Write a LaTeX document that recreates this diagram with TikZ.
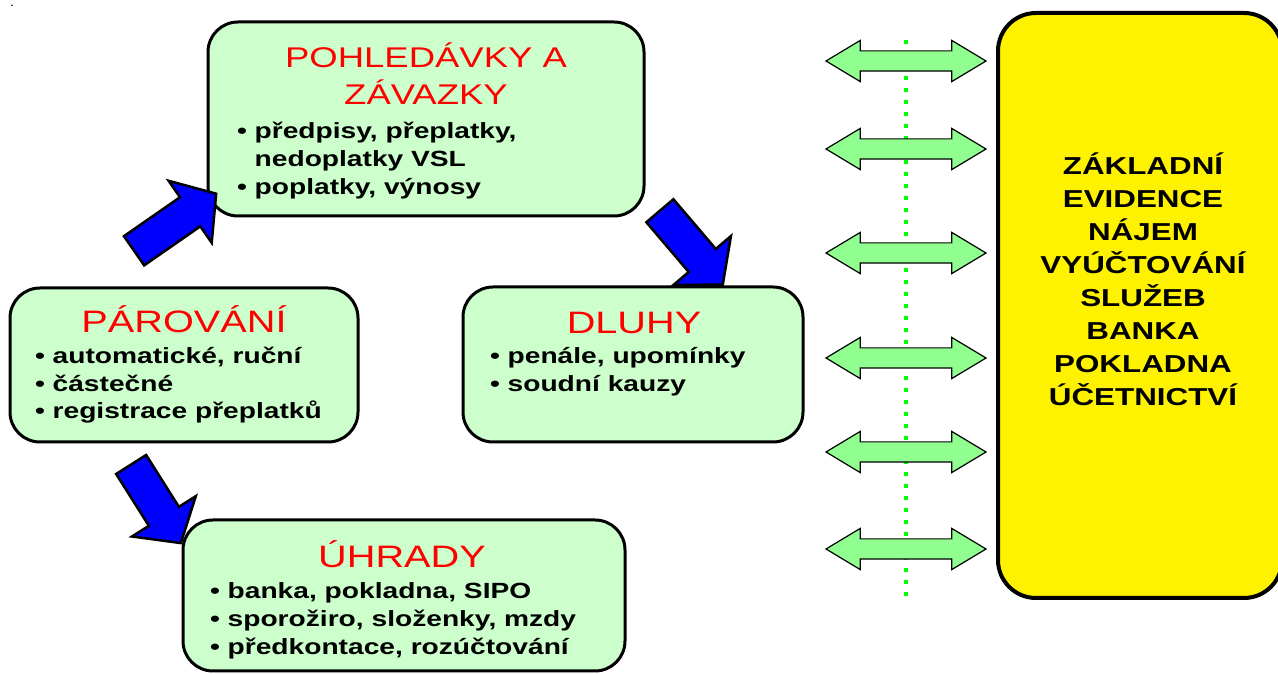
\documentclass[tikz,border=0pt]{standalone}
\usepackage{fontspec}
\setmainfont{Liberation Sans}[FakeStretch=1.28]
\usepackage{xcolor}
\usepackage{tikz}
\usetikzlibrary{shapes.arrows}

\definecolor{boxgreen}{RGB}{204,255,204}
\definecolor{arrowgreen}{RGB}{144,255,144}
\definecolor{dotgreen}{RGB}{0,255,0}

\begin{document}
\begin{tikzpicture}[x=1pt, y=1pt, every node/.style={
    inner sep=0pt,
    outer sep=0pt,
  },
  greenbox/.style={rectangle, rounded corners=30pt, draw=black, line width=3pt, fill=boxgreen},
  title/.style={anchor=base, text=red, font=\fontsize{31}{37}\selectfont},
  item/.style={anchor=base west, font=\bfseries\fontsize{22}{28}\selectfont},
  bluearrow/.style={single arrow, draw=black, line width=2.5pt, fill=blue, inner xsep=0pt,
    inner ysep=16.5pt, single arrow head extend=20pt, single arrow tip angle=100},
  greenarrow/.style={double arrow, draw=black, line width=1.2pt, fill=arrowgreen, inner xsep=0pt,
    inner ysep=9.5pt, minimum height=160pt, double arrow head extend=10.5pt, double arrow tip angle=62},
  dotline/.style={draw=dotgreen, line width=4pt, dash pattern=on 4pt off 8pt},
  ]
  \useasboundingbox (0,0) rectangle (1278,675);

  \node[anchor=base, font=\fontsize{12}{12}\selectfont] (dot) at (12,668) {.};

  % boxes
  \node[greenbox, minimum width=436pt, minimum height=194pt] (pohl) at (426,556) {};
  \node[greenbox, minimum width=348pt, minimum height=154pt] (par) at (184,310) {};
  \node[greenbox, minimum width=340pt, minimum height=155pt] (dluhy) at (633,310.5) {};
  \node[greenbox, minimum width=442pt, minimum height=151pt] (uhr) at (404,79.5) {};
  \node[rectangle, rounded corners=38pt, draw=black, line width=4pt, fill=yellow,
    minimum width=284pt, minimum height=585pt] (zakl) at (1140,369.5) {};

  \node[title, font=\fontsize{28.5}{34}\selectfont] (pohlt1) at (426,607) {POHLEDÁVKY A};
  \node[title, font=\fontsize{28.5}{34}\selectfont] (pohlt2) at (426,570) {ZÁVAZKY};
  \node[item] (pohl1) at (237,536) {• předpisy, přeplatky,};
  \node[item] (pohl2) at (237,508) {\phantom{• }nedoplatky VSL};
  \node[item] (pohl3) at (237,480) {• poplatky, výnosy};

  \node[title] (part) at (184,342) {PÁROVÁNÍ};
  \node[item] (par1) at (35,311) {• automatické, ruční};
  \node[item] (par2) at (35,283) {• částečné};
  \node[item] (par3) at (35,256) {• registrace přeplatků};

  \node[title] (dluhyt) at (634,341) {DLUHY};
  \node[item] (dluhy1) at (490,311) {• penále, upomínky};
  \node[item] (dluhy2) at (490,283) {• soudní kauzy};

  \node[title] (uhrt) at (402,107) {ÚHRADY};
  \node[item] (uhr1) at (210,76) {• banka, pokladna, SIPO};
  \node[item] (uhr2) at (210,48) {• sporožiro, složenky, mzdy};
  \node[item] (uhr3) at (210,20) {• předkontace, rozúčtování};

  \node[align=center, font=\bfseries\fontsize{24.5}{33}\selectfont] (zaklt) at (1143,396)
    {ZÁKLADNÍ\\EVIDENCE\\NÁJEM\\VYÚČTOVÁNÍ\\SLUŽEB\\BANKA\\POKLADNA\\ÚČETNICTVÍ};

  % flow
  \node[bluearrow, minimum height=100pt, rotate=34.8] (a1) at (169,448.5) {};
  \node[bluearrow, minimum height=97pt, rotate=-49.6] (a2) at (686.5,433) {};
  \node[bluearrow, minimum height=93pt, rotate=-57.7] (a3) at (152,177.5) {};

  \coordinate (dtop) at (906,635);
  \coordinate (dbot) at (906,75);
  \draw[dotline] (dtop) -- (dbot);

  \foreach \y [count=\i] in {614,526,422,317,223,126}
    \node[greenarrow] (dbl\i) at (906,\y) {};

\end{tikzpicture}
\end{document}
